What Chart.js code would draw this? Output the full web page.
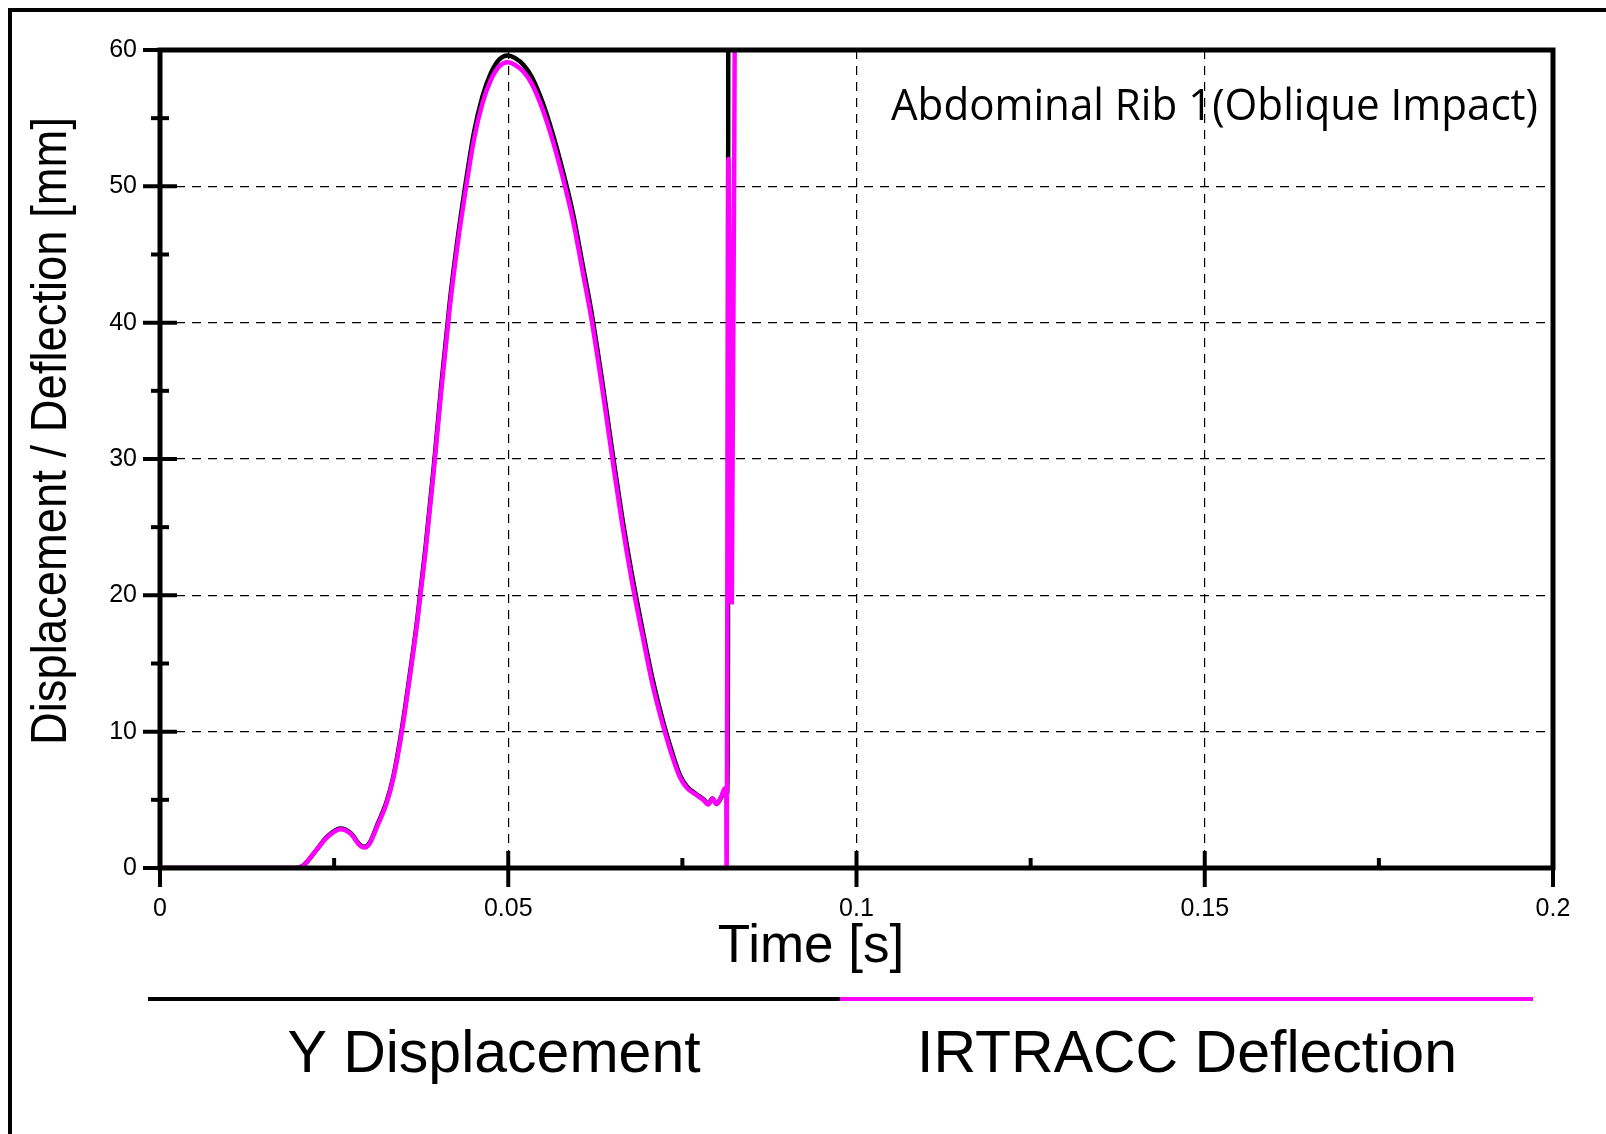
<!DOCTYPE html>
<html><head><meta charset="utf-8">
<script src="https://cdn.jsdelivr.net/npm/chart.js@4.4.1/dist/chart.umd.min.js"></script>
<style>html,body{margin:0;padding:0;background:#fff;} #wrap{width:1606px;height:1134px;position:relative;}</style>
</head><body><div id="wrap"><canvas id="c" width="1606" height="1134"></canvas></div>
<script>
const seriesNames = ['Y Displacement', 'IRTRACC Deflection'];
const seriesColors = ['#000000', '#ff00ff'];
const chartTitle = 'Abdominal Rib 1(Oblique Impact)';
const xTitle = 'Time [s]';
const yTitle = 'Displacement / Deflection [mm]';
const xTickValues = [0, 0.05, 0.1, 0.15, 0.2];
const xTickLabels = ['0', '0.05', '0.1', '0.15', '0.2'];
const yTickValues = [0, 10, 20, 30, 40, 50, 60];
const yTickLabels = ['0', '10', '20', '30', '40', '50', '60'];

// IRTRACC Deflection (magenta)
const timeIr = [0, 0.010, 0.0195, 0.0205, 0.021, 0.0225, 0.024, 0.0259, 0.0274, 0.0287, 0.0294, 0.0301, 0.0313, 0.0325, 0.0335, 0.0346, 0.0357, 0.0369, 0.0381, 0.0393, 0.0404, 0.0416, 0.0428, 0.044, 0.0451, 0.0463, 0.0475, 0.0487, 0.0499, 0.051, 0.0522, 0.0534, 0.0549, 0.0563, 0.0578, 0.0593, 0.0607, 0.0619, 0.0634, 0.0649, 0.0663, 0.0678, 0.0693, 0.0707, 0.0722, 0.0737, 0.0747, 0.0757, 0.0769, 0.0781, 0.0787, 0.0793, 0.0799, 0.0806, 0.0811, 0.0813, 0.08135, 0.0816, 0.0821, 0.0826];
const deflIr = [0, 0, 0, 0.15, 0.4, 1.35, 2.25, 2.85, 2.5, 1.65, 1.5, 1.8, 3.2, 4.7, 6.6, 9.6, 13.4, 17.9, 23.1, 29.1, 35.1, 41.1, 46.0, 50.1, 53.5, 56.1, 57.8, 58.8, 59.1, 58.9, 58.4, 57.5, 55.7, 53.5, 50.7, 47.5, 43.7, 40.4, 35.5, 30.2, 25.4, 20.9, 17.0, 13.5, 10.5, 7.95, 6.6, 5.85, 5.4, 4.95, 4.65, 5.1, 4.7, 5.25, 5.85, 5.6, 0, 52, 19.5, 72];

// Y Displacement (black)
const timeY = [0, 0.010, 0.0195, 0.0205, 0.021, 0.0225, 0.024, 0.0259, 0.0274, 0.0287, 0.0294, 0.0301, 0.0313, 0.0325, 0.0335, 0.0346, 0.0357, 0.0369, 0.0381, 0.0393, 0.0404, 0.0416, 0.0428, 0.044, 0.0451, 0.0463, 0.0475, 0.0487, 0.0499, 0.051, 0.0522, 0.0534, 0.0549, 0.0563, 0.0578, 0.0593, 0.0607, 0.0619, 0.0634, 0.0649, 0.0663, 0.0678, 0.0693, 0.0707, 0.0722, 0.0737, 0.0747, 0.0757, 0.0769, 0.0781, 0.0787, 0.0793, 0.0799, 0.0806, 0.0811, 0.0814, 0.08155, 0.0816];
const dispY = [0, 0, 0, 0.15, 0.4, 1.35, 2.3, 2.9, 2.55, 1.7, 1.55, 1.85, 3.3, 4.8, 6.7, 9.8, 13.6, 18.1, 23.4, 29.4, 35.5, 41.5, 46.4, 50.6, 54.0, 56.6, 58.3, 59.3, 59.6, 59.4, 58.9, 58.0, 56.2, 54.0, 51.2, 48.0, 44.2, 40.9, 36.0, 30.7, 25.9, 21.4, 17.4, 13.9, 10.8, 8.2, 6.75, 5.95, 5.45, 5.0, 4.7, 5.1, 4.7, 5.2, 5.7, 5.4, 16.4, 90];

const toPts = (xs, ys) => xs.map((t, i) => ({x: t, y: ys[i]}));
const FONT = '"Liberation Sans", Arial, sans-serif';

const decor = {
  id: 'decor',
  beforeDraw(chart) {
    const ctx = chart.ctx;
    ctx.save();
    ctx.fillStyle = '#fff';
    ctx.fillRect(0, 0, chart.width, chart.height);
    ctx.restore();
  },
  afterDatasetsDraw(chart) {
    const {ctx, chartArea: a, scales: {x, y}} = chart;
    ctx.save();
    ctx.strokeStyle = '#000';
    ctx.lineCap = 'butt';
    const line = (x1, y1, x2, y2) => { ctx.beginPath(); ctx.moveTo(x1, y1); ctx.lineTo(x2, y2); ctx.stroke(); };
    ctx.lineWidth = 4;
    // y ticks (major + minor), crossing the axis
    for (let i = 0; i < yTickValues.length; i++) {
      const v = yTickValues[i];
      let py = y.getPixelForValue(v);
      line(a.left - 17, py, a.left + 17, py);
      if (i < yTickValues.length - 1) {
        py = y.getPixelForValue((v + yTickValues[i + 1]) / 2);
        line(a.left - 9, py, a.left + 9, py);
      }
    }
    // x ticks
    for (let i = 0; i < xTickValues.length; i++) {
      const v = xTickValues[i];
      let px = x.getPixelForValue(v);
      line(px, a.bottom - 17, px, a.bottom + 19);
      if (i < xTickValues.length - 1) {
        px = x.getPixelForValue((v + xTickValues[i + 1]) / 2);
        line(px, a.bottom - 10, px, a.bottom);
      }
    }
    // plot frame
    ctx.lineWidth = 5;
    ctx.strokeRect(a.left, a.top, a.right - a.left, a.bottom - a.top);
    ctx.restore();
  },
  afterDraw(chart) {
    const ctx = chart.ctx;
    ctx.save();
    // outer frame (left and top)
    ctx.strokeStyle = '#000';
    ctx.lineWidth = 4;
    ctx.beginPath();
    ctx.moveTo(10, chart.height);
    ctx.lineTo(10, 10);
    ctx.lineTo(chart.width, 10);
    ctx.stroke();

    ctx.fillStyle = '#000';
    // inner title
    ctx.font = '43px "Open Sans", "Noto Sans", sans-serif';
    let w = ctx.measureText(chartTitle).width;
    ctx.save();
    ctx.translate(1538, 120);
    ctx.scale(647 / w, 1);
    ctx.textAlign = 'right';
    ctx.textBaseline = 'alphabetic';
    ctx.fillText(chartTitle, 0, 0);
    ctx.restore();

    // x title
    ctx.font = '53px ' + FONT;
    ctx.textAlign = 'center';
    ctx.textBaseline = 'alphabetic';
    ctx.fillText(xTitle, 811, 962);

    // y title
    ctx.font = '50px ' + FONT;
    w = ctx.measureText(yTitle).width;
    ctx.save();
    ctx.translate(66, 431);
    ctx.rotate(-Math.PI / 2);
    ctx.scale(628 / w, 1);
    ctx.textAlign = 'center';
    ctx.fillText(yTitle, 0, 0);
    ctx.restore();

    // legend
    const segs = [[148, 840], [840, 1533]];
    const centers = [494, 1187];
    chart.data.datasets.forEach((ds, i) => {
      ctx.strokeStyle = ds.borderColor;
      ctx.lineWidth = 4;
      ctx.beginPath();
      ctx.moveTo(segs[i][0], 999);
      ctx.lineTo(segs[i][1], 999);
      ctx.stroke();
      ctx.fillStyle = '#000';
      ctx.font = '59px ' + FONT;
      ctx.textAlign = 'center';
      ctx.fillText(ds.label, centers[i], 1072);
    });
    ctx.restore();
  }
};

new Chart(document.getElementById('c'), {
  type: 'line',
  data: {
    datasets: [
      {label: seriesNames[0], data: toPts(timeY, dispY), borderColor: seriesColors[0], borderWidth: 4.5, pointRadius: 0, cubicInterpolationMode: 'monotone', order: 1},
      {label: seriesNames[1], data: toPts(timeIr, deflIr), borderColor: seriesColors[1], borderWidth: 4.5, pointRadius: 0, cubicInterpolationMode: 'monotone', order: 0}
    ]
  },
  options: {
    responsive: false,
    animation: false,
    devicePixelRatio: 1,
    parsing: true,
    layout: {padding: {top: 50, right: 53, left: 0, bottom: 0}},
    plugins: {legend: {display: false}, tooltip: {enabled: false}, title: {display: false}},
    scales: {
      x: {
        type: 'linear', min: 0, max: 0.2,
        afterBuildTicks(s) { s.ticks = xTickValues.map(v => ({value: v})); },
        afterFit(s) { s.height = 266; },
        grid: {color: '#000', lineWidth: 1.2, drawTicks: false},
        border: {display: false, dash: [9, 7]},
        ticks: {font: {family: FONT, size: 25}, color: '#000', padding: 26, maxRotation: 0, autoSkip: false,
          callback: (v, i) => xTickLabels[i]}
      },
      y: {
        type: 'linear', min: 0, max: 60,
        afterBuildTicks(s) { s.ticks = yTickValues.map(v => ({value: v})); },
        afterFit(s) { s.width = 160; },
        grid: {color: '#000', lineWidth: 1.2, drawTicks: false},
        border: {display: false, dash: [9, 7]},
        ticks: {font: {family: FONT, size: 25}, color: '#000', padding: 23, autoSkip: false,
          callback: (v, i) => yTickLabels[i]}
      }
    }
  },
  plugins: [decor]
});
</script>
</body></html>
